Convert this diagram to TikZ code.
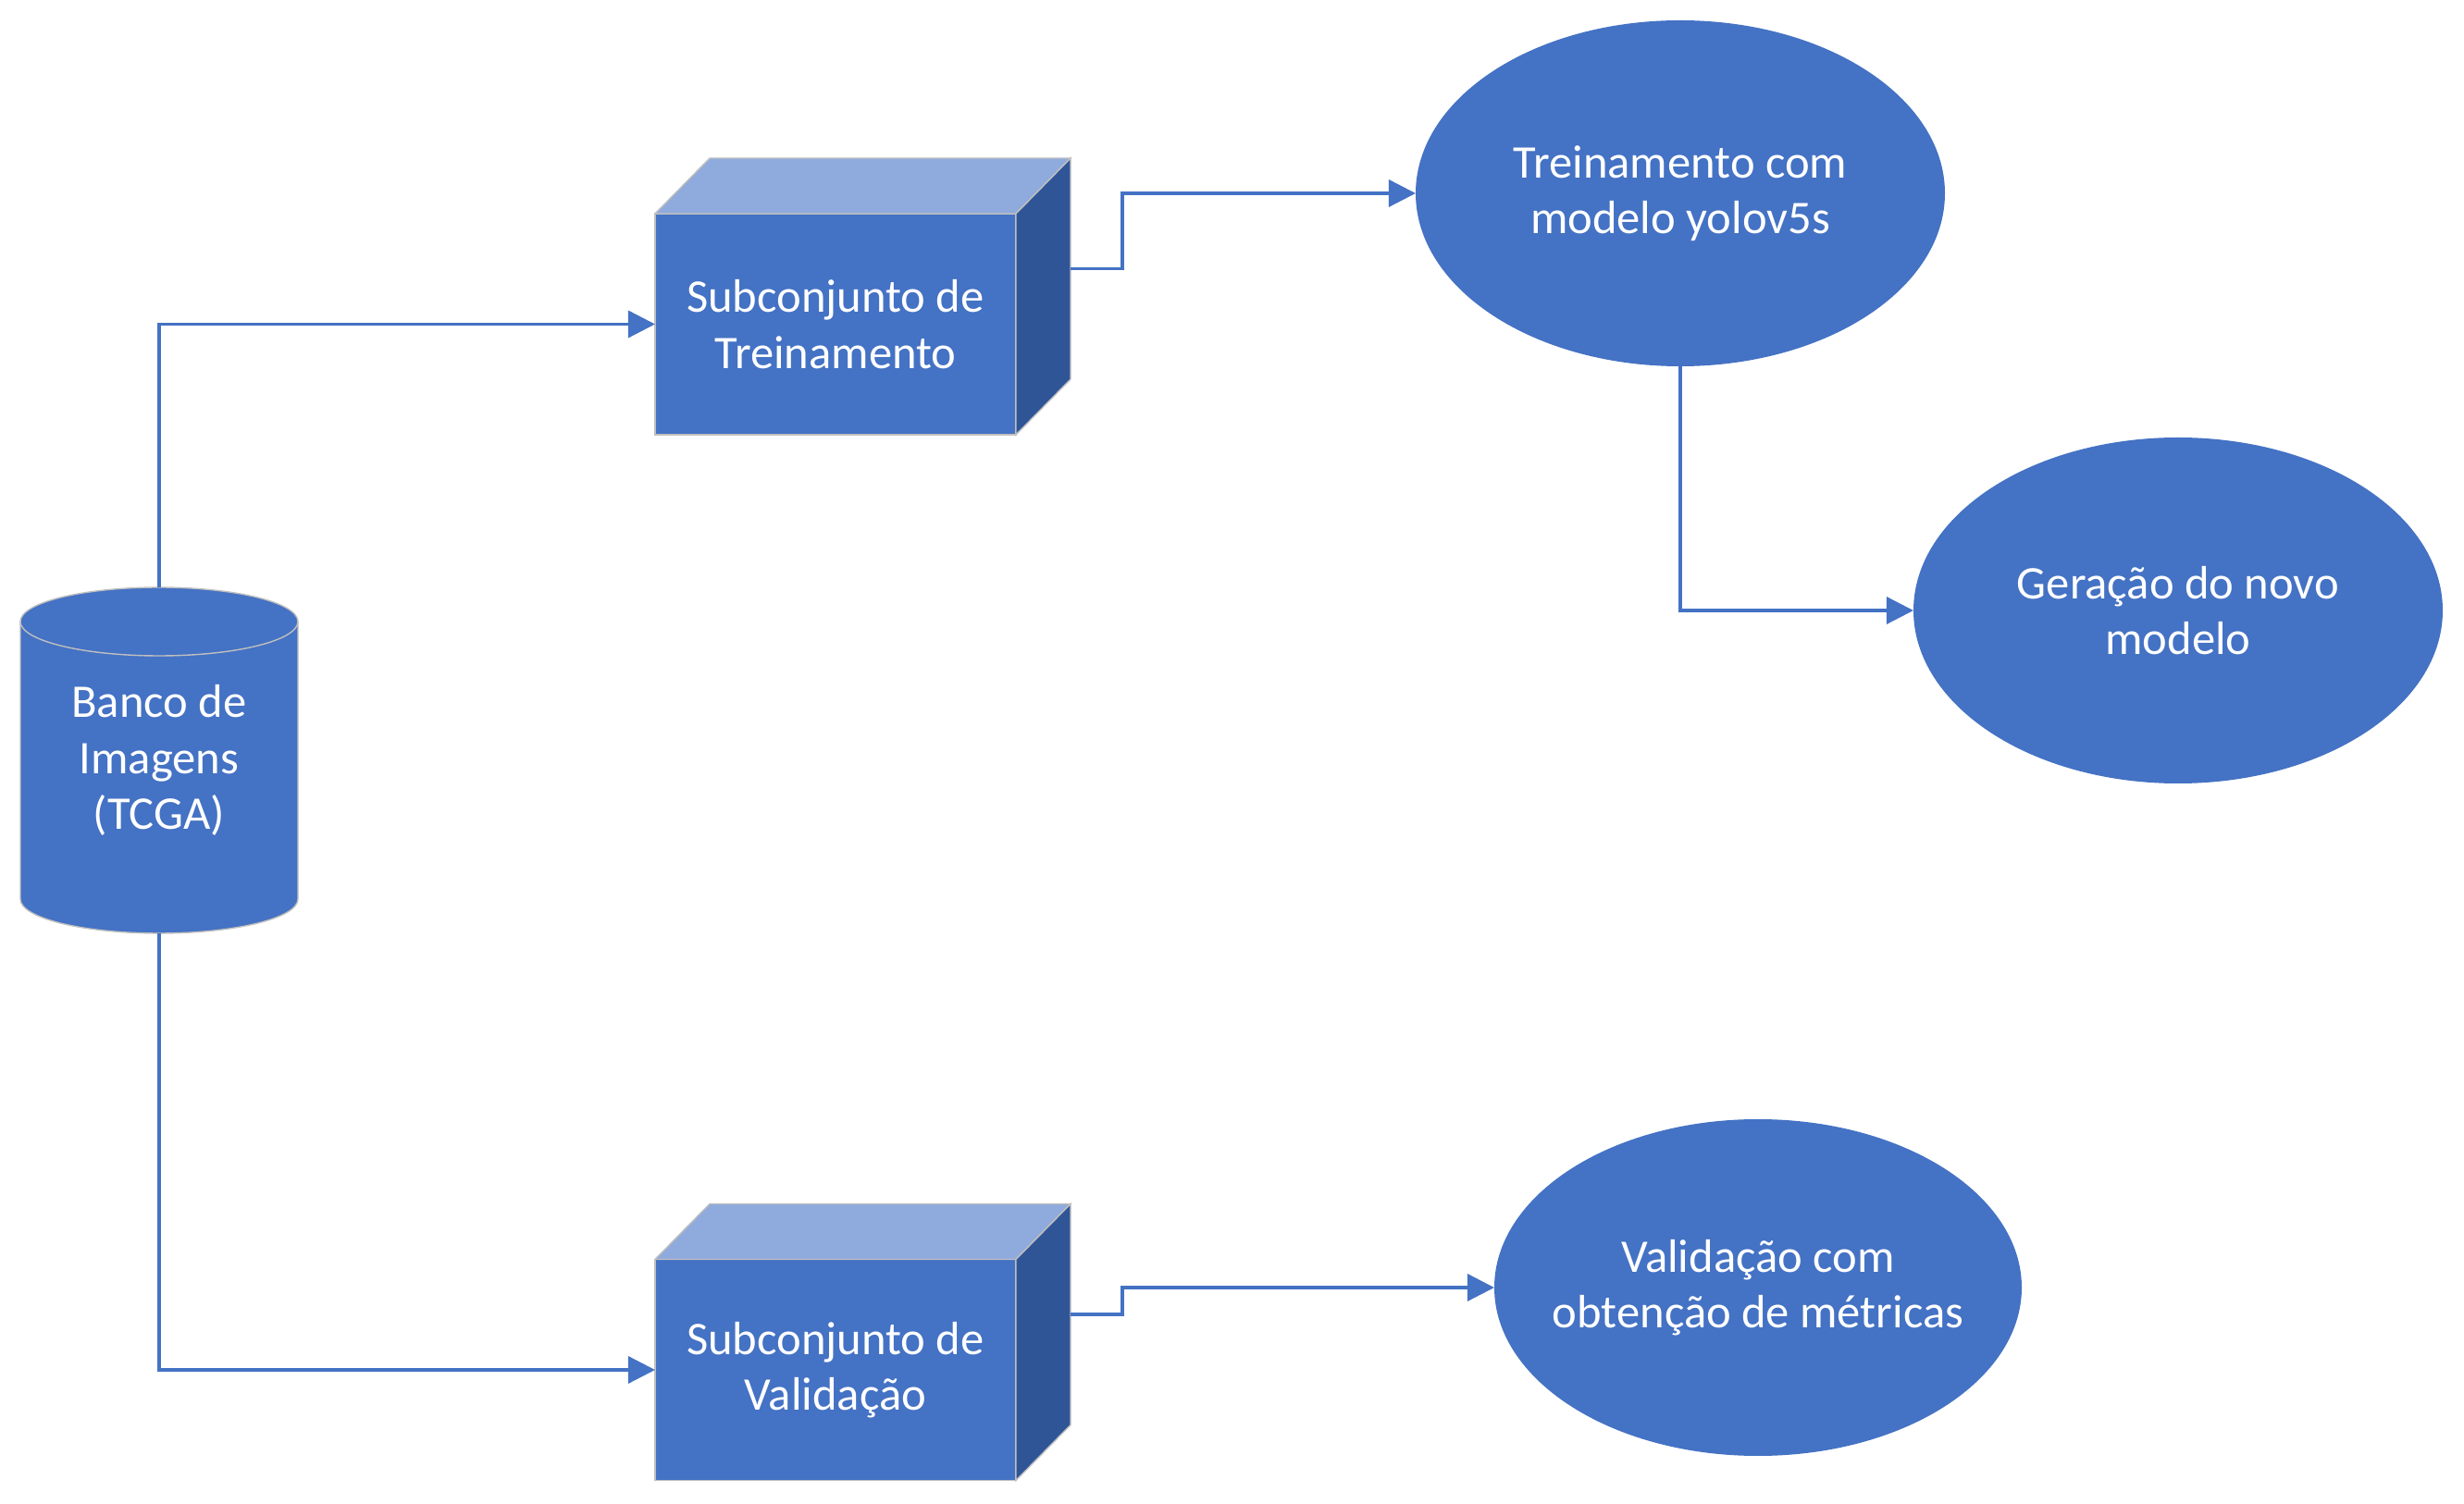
\documentclass[tikz,border=0pt]{standalone}
\usepackage{fontspec}
\setmainfont{Carlito}
\usetikzlibrary{arrows.meta,shapes.geometric,backgrounds}
\definecolor{boxblue}{HTML}{4472C4}
\definecolor{topblue}{HTML}{8FAADC}
\definecolor{sideblue}{HTML}{2F5597}
\definecolor{edgegray}{HTML}{BFBFBF}
\tikzset{
  txt/.style={text=white, align=center, font=\fontsize{14.4}{17.2}\selectfont, inner sep=0pt, outer sep=0pt},
  front/.style={txt, draw=edgegray, line width=0.4pt, fill=boxblue, minimum width=3.9cm, minimum height=2.39cm},
  oval/.style={txt, ellipse, fill=boxblue, minimum width=5.72cm, minimum height=3.74cm},
  flow/.style={->,>={Triangle[length=8.3pt,width=8.3pt]},line width=0.95pt,boxblue}
}

\begin{document}
\begin{tikzpicture}
\useasboundingbox (0,0) rectangle (26.63,-16.26);

% banco de imagens
\node[txt, minimum width=3cm, minimum height=3cm] (bd) at (1.72,-8.22) {Banco de\\Imagens\\(TCGA)};
\begin{scope}[on background layer]
\path[fill=boxblue, draw=edgegray, line width=0.4pt] (bd.north west) arc[start angle=180, end angle=0, x radius=1.5cm, y radius=0.37cm] -- (bd.south east) arc[start angle=0, end angle=-180, x radius=1.5cm, y radius=0.37cm] -- cycle;
\draw[edgegray, line width=0.4pt] (bd.north west) arc[start angle=180, end angle=360, x radius=1.5cm, y radius=0.37cm];
\end{scope}

% subconjuntos
\node[front] (sub1) at (9.03,-3.505) {Subconjunto de\\Treinamento};
\node[front, below of=sub1, yshift=-10.305cm] (sub2) {Subconjunto de\\Validação};
\foreach \s in {sub1,sub2}{
  \filldraw[fill=topblue, draw=edgegray, line width=0.4pt] (\s.north west) -- ++(0.59,0.6) -- ++(3.9,0) -- (\s.north east) -- cycle;
  \filldraw[fill=sideblue, draw=edgegray, line width=0.4pt] (\s.north east) -- ++(0.59,0.6) -- ++(0,-2.39) -- (\s.south east) -- cycle;
  \coordinate (\s-side) at ([shift={(0.59cm,0.6cm)}]\s.east);
}

% etapas
\node[oval, right of=sub1, xshift=8.13cm, yshift=1.415cm] (trn) {Treinamento com\\modelo yolov5s};
\node[oval, right of=trn, xshift=4.38cm, yshift=-4.51cm] (ger) {Geração do novo\\modelo};
\node[oval, right of=sub2, xshift=8.97cm, yshift=0.89cm, minimum width=5.7cm, minimum height=3.64cm, inner xsep=-0.25cm] (val) {Validação com\\obtenção de métricas};

\draw[flow] ([yshift=0.37cm] bd.north) |- (sub1.west);
\draw[flow] ([yshift=-0.37cm] bd.south) |- (sub2.west);
\draw[flow] (sub1-side) -- ++(0.56,0) |- (trn.west);
\draw[flow] (trn.south) |- (ger.west);
\draw[flow] (sub2-side) -- ++(0.56,0) |- (val.west);
\end{tikzpicture}
\end{document}
